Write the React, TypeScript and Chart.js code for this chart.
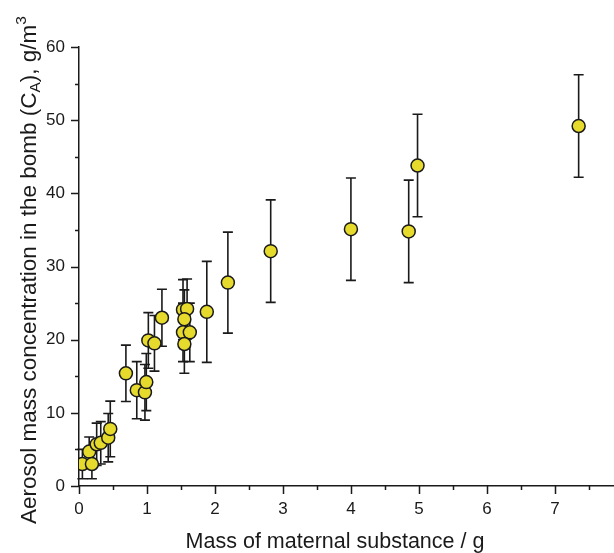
import React, { useEffect, useRef } from "react";
import { Chart, registerables } from "chart.js";

Chart.register(...registerables);

const xValues = [0.05, 0.15, 0.19, 0.26, 0.32, 0.43, 0.46, 0.69, 0.85, 0.97, 0.99, 1.02, 1.11, 1.22, 1.53, 1.59, 1.55, 1.53, 1.63, 1.55, 1.88, 2.19, 2.82, 4.0, 4.85, 4.98, 7.35];
const yValues = [3.0, 4.7, 3.0, 5.7, 5.9, 6.6, 7.8, 15.4, 13.1, 12.8, 14.2, 19.9, 19.5, 23.0, 24.1, 24.2, 22.8, 21.0, 21.0, 19.4, 23.8, 27.8, 32.1, 35.1, 34.8, 43.8, 49.2];
const yErrors = [2.0, 2.0, 2.0, 2.9, 2.9, 3.3, 3.8, 3.85, 3.9, 3.8, 3.9, 3.8, 3.8, 3.9, 4.1, 4.1, 4.0, 4.0, 4.0, 4.0, 6.9, 6.9, 7.0, 7.0, 7.0, 7.0, 7.0];

const xTickValues = [0, 1, 2, 3, 4, 5, 6, 7];
const yTickValues = [0, 10, 20, 30, 40, 50, 60];
const xMinorTicks = [0.5, 1.5, 2.5, 3.5, 4.5, 5.5, 6.5, 7.5];
const yMinorTicks = [5, 15, 25, 35, 45, 55];

const xTitle = "Mass of maternal substance / g";
const yTitleParts = [
  { text: "Aerosol mass concentration in the bomb (C", kind: "normal" },
  { text: "A", kind: "sub" },
  { text: "), g/m", kind: "normal" },
  { text: "3", kind: "sup" },
];

const FONT = "'Liberation Sans', Arial, sans-serif";
const TEXT = "#1a1a1a";

const decorPlugin = {
  id: "decor",
  beforeDatasetsDraw(chart: any) {
    const ctx = chart.ctx;
    const xs = chart.scales.x;
    const ys = chart.scales.y;
    ctx.save();
    ctx.strokeStyle = "#1a1a1a";
    ctx.lineWidth = 1.6;
    for (let i = 0; i < xValues.length; i++) {
      const px = xs.getPixelForValue(xValues[i]);
      const top = ys.getPixelForValue(yValues[i] + yErrors[i]);
      const bot = ys.getPixelForValue(yValues[i] - yErrors[i]);
      ctx.beginPath();
      ctx.moveTo(px, top);
      ctx.lineTo(px, bot);
      ctx.moveTo(px - 5, top);
      ctx.lineTo(px + 5, top);
      ctx.moveTo(px - 5, bot);
      ctx.lineTo(px + 5, bot);
      ctx.stroke();
    }
    ctx.restore();
  },
  afterDraw(chart: any) {
    const ctx = chart.ctx;
    const xs = chart.scales.x;
    const ys = chart.scales.y;
    const area = chart.chartArea;
    ctx.save();
    ctx.strokeStyle = "#1a1a1a";
    ctx.lineWidth = 1.5;
    ctx.beginPath();
    for (const v of xTickValues) {
      const p = Math.round(xs.getPixelForValue(v)) + 0.5;
      ctx.moveTo(p, area.bottom);
      ctx.lineTo(p, area.bottom + 8);
    }
    for (const v of xMinorTicks) {
      const p = Math.round(xs.getPixelForValue(v)) + 0.5;
      ctx.moveTo(p, area.bottom);
      ctx.lineTo(p, area.bottom + 4);
    }
    for (const v of yTickValues) {
      const p = Math.round(ys.getPixelForValue(v)) + 0.5;
      ctx.moveTo(area.left, p);
      ctx.lineTo(area.left - 8, p);
    }
    for (const v of yMinorTicks) {
      const p = Math.round(ys.getPixelForValue(v)) + 0.5;
      ctx.moveTo(area.left, p);
      ctx.lineTo(area.left - 4, p);
    }
    ctx.stroke();

    // x tick labels
    ctx.fillStyle = TEXT;
    ctx.font = `17px ${FONT}`;
    ctx.textAlign = "center";
    ctx.textBaseline = "middle";
    for (const v of xTickValues) {
      ctx.fillText(String(v), xs.getPixelForValue(v), area.bottom + 23);
    }

    // x title
    ctx.font = `21.5px ${FONT}`;
    ctx.textAlign = "center";
    ctx.textBaseline = "alphabetic";
    ctx.fillText(xTitle, 335, 548);

    // y title with sub/superscript
    const big = `22.5px ${FONT}`;
    const small = `15.5px ${FONT}`;
    let total = 0;
    for (const part of yTitleParts) {
      ctx.font = part.kind === "normal" ? big : small;
      total += ctx.measureText(part.text).width;
    }
    ctx.translate(30, 270);
    ctx.rotate(-Math.PI / 2);
    ctx.textAlign = "left";
    ctx.textBaseline = "middle";
    let x = -total / 2;
    for (const part of yTitleParts) {
      ctx.font = part.kind === "normal" ? big : small;
      const dy = part.kind === "sub" ? 5.5 : part.kind === "sup" ? -8 : 0;
      ctx.fillText(part.text, x, dy);
      x += ctx.measureText(part.text).width;
    }
    ctx.restore();
  },
};

export default function App() {
  const ref = useRef<HTMLCanvasElement | null>(null);
  useEffect(() => {
    if (!ref.current) return;
    const points = xValues.map((x, i) => ({ x, y: yValues[i] }));
    const chart = new Chart(ref.current, {
      type: "scatter",
      data: {
        datasets: [
          {
            data: points,
            backgroundColor: "#e6da2c",
            borderColor: "#1a1a1a",
            borderWidth: 1.5,
            pointRadius: 6.5,
            pointHoverRadius: 6.5,
          },
        ],
      },
      options: {
        animation: false,
        responsive: false,
        maintainAspectRatio: false,
        events: [],
        layout: { autoPadding: false, padding: { top: 47, left: 0, right: 0, bottom: 0 } },
        plugins: {
          legend: { display: false },
          tooltip: { enabled: false },
        },
        scales: {
          x: {
            type: "linear",
            min: 0,
            max: 7.87,
            grid: { display: false, drawTicks: false },
            border: { display: true, color: "#1a1a1a", width: 1.5 },
            ticks: { display: false },
            afterBuildTicks: (s: any) => {
              s.ticks = xTickValues.map((v) => ({ value: v }));
            },
            afterFit: (s: any) => {
              s.height = 67;
              s.paddingRight = 0;
              s.paddingLeft = 0;
            },
          },
          y: {
            type: "linear",
            min: 0,
            max: 60,
            grid: { display: false, drawTicks: false },
            border: { display: true, color: "#1a1a1a", width: 1.5 },
            ticks: {
              padding: 14,
              color: TEXT,
              font: { family: FONT, size: 17 },
            },
            afterBuildTicks: (s: any) => {
              s.ticks = yTickValues.map((v) => ({ value: v }));
            },
            afterFit: (s: any) => {
              s.width = 79;
              s.paddingTop = 0;
              s.paddingBottom = 0;
            },
          },
        },
      },
      plugins: [decorPlugin],
    });
    return () => chart.destroy();
  }, []);
  return (
    <div style={{ position: "absolute", left: 0, top: 0, width: 614, height: 553, background: "#fff" }}>
      <canvas ref={ref} width={614} height={553} />
    </div>
  );
}
